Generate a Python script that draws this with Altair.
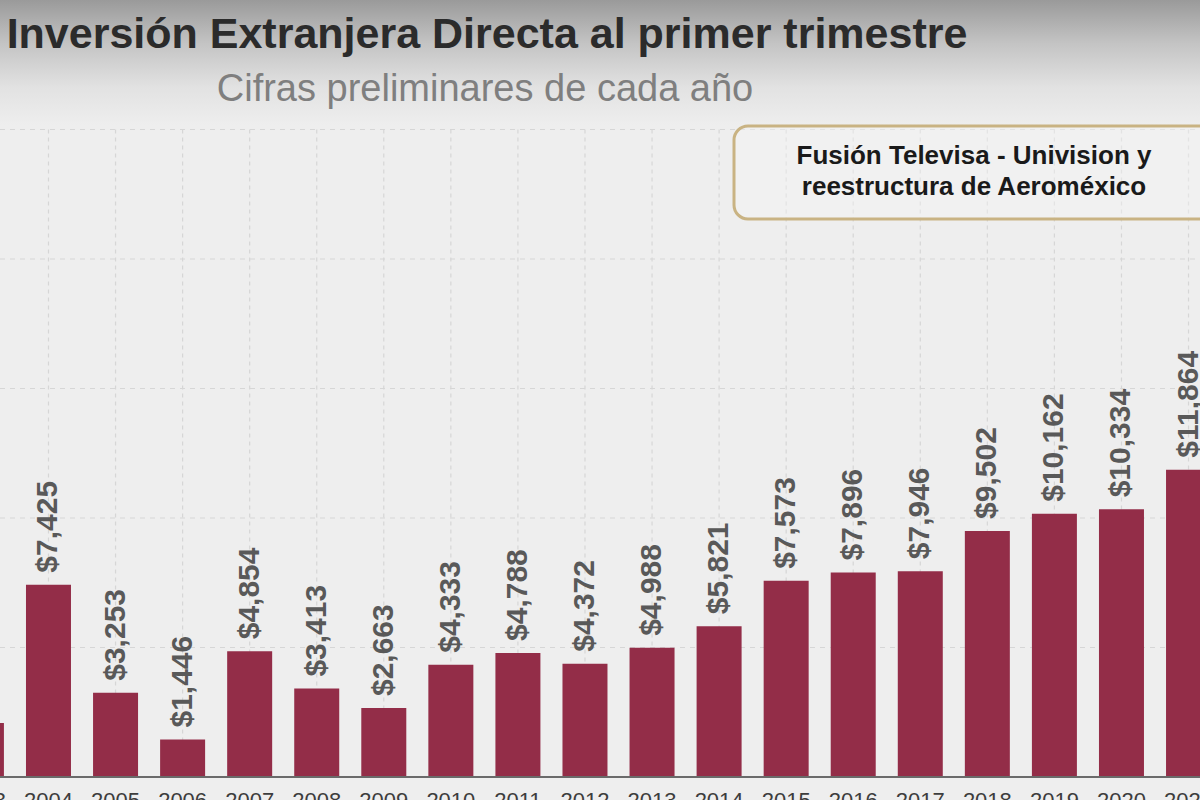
import altair as alt
import pandas as pd

# ---- data -------------------------------------------------------------
years = list(range(2003, 2022))
values = [2085, 7425, 3253, 1446, 4854, 3413, 2663, 4333, 4788, 4372,
          4988, 5821, 7573, 7896, 7946, 9502, 10162, 10334, 11864]
grid_values = [5000, 10000, 15000, 20000, 25000]

title_text = "Inversión Extranjera Directa al primer trimestre"
subtitle_text = "Cifras preliminares de cada año"
note_line1 = "Fusión Televisa - Univision y"
note_line2 = "reestructura de Aeroméxico"

df = pd.DataFrame({"year": years, "value": values})
grid_df = pd.DataFrame({"g": grid_values})
one = alt.Data(values=[{"k": 1}])
zero_df = pd.DataFrame({"z": [0]})

FONT = "Liberation Sans"
BAR = "#932d48"

xs = alt.Scale(domain=[2003.277, 2021.171], nice=False, zero=False, padding=0)
ys = alt.Scale(domain=[-888, 30000], nice=False, zero=False, padding=0)
X = alt.X("year:Q", scale=xs, axis=None)

# background gradient band at the top
bg = alt.Chart(one).mark_rect(
    color=alt.LinearGradient(
        gradient="linear",
        stops=[alt.GradientStop(color="#9a9a9a", offset=0),
               alt.GradientStop(color="#c4c4c4", offset=0.35),
               alt.GradientStop(color="#e2e2e2", offset=0.7),
               alt.GradientStop(color="#eeeeee", offset=1)],
        x1=0, x2=0, y1=0, y2=1)
).encode(x=alt.value(0), x2=alt.value(1200), y=alt.value(0), y2=alt.value(125))

# horizontal dashed grid
hgrid = alt.Chart(grid_df).mark_rule(color="#d6d6d6", strokeWidth=1.2, strokeDash=[5, 5]).encode(
    y=alt.Y("g:Q", scale=ys, axis=None), x=alt.value(0), x2=alt.value(1200))

# vertical dashed grid at each year
vgrid = alt.Chart(df).transform_calculate(top="25000", bot="0").mark_rule(
    color="#d6d6d6", strokeWidth=1.2, strokeDash=[4, 4]).encode(
    x=X, y=alt.Y("top:Q", scale=ys, axis=None), y2="bot:Q")

# annotation box
box = alt.Chart(one).mark_rect(
    cornerRadius=14, stroke="#c9b383", strokeWidth=3, fill="#f5f5f5", fillOpacity=0.45
).encode(x=alt.value(734), x2=alt.value(1240), y=alt.value(126), y2=alt.value(219))

note1 = alt.Chart(one).mark_text(
    text=note_line1, font=FONT, fontSize=26, fontWeight="bold", color="#1a1a1a",
    align="center", baseline="alphabetic"
).encode(x=alt.value(974), y=alt.value(164))
note2 = alt.Chart(one).mark_text(
    text=note_line2, font=FONT, fontSize=26, fontWeight="bold", color="#1a1a1a",
    align="center", baseline="alphabetic"
).encode(x=alt.value(974), y=alt.value(195))

bars = alt.Chart(df).mark_bar(orient="vertical", size=45, color=BAR).encode(
    x=X, y=alt.Y("value:Q", scale=ys, axis=None))

labels = alt.Chart(df).transform_calculate(
    lab="'$' + format(datum.value, ',')"
).mark_text(
    angle=270, align="left", baseline="middle", dx=12, font=FONT, fontSize=30,
    fontWeight="bold", color="#595959"
).encode(x=X, y=alt.Y("value:Q", scale=ys, axis=None), text="lab:N")

year_labels = alt.Chart(df).mark_text(
    align="center", baseline="top", font=FONT, fontSize=22, color="#3d3d3d"
).encode(x=X, y=alt.value(791), text=alt.Text("year:Q", format="d"))

baseline = alt.Chart(zero_df).mark_rule(color="#6a6a6a", strokeWidth=2).encode(
    y=alt.Y("z:Q", scale=ys, axis=None), x=alt.value(0), x2=alt.value(1200))

title = alt.Chart(one).mark_text(
    text=title_text, font=FONT, fontSize=43, fontWeight="bold", color="#2b2b2b",
    align="center", baseline="alphabetic"
).encode(x=alt.value(487), y=alt.value(48))
subtitle = alt.Chart(one).mark_text(
    text=subtitle_text, font=FONT, fontSize=38, color="#7f7f7f",
    align="center", baseline="alphabetic"
).encode(x=alt.value(485), y=alt.value(101))

chart = alt.layer(
    bg, hgrid, vgrid, box, note1, note2, bars, labels, year_labels, baseline, title, subtitle
).properties(
    width=1200, height=800, autosize=alt.AutoSizeParams(type="none"), padding=0,
    background="#eeeeee"
).configure_view(stroke=None)

chart.save("out.html", embed_options={"renderer": "svg", "actions": False})
